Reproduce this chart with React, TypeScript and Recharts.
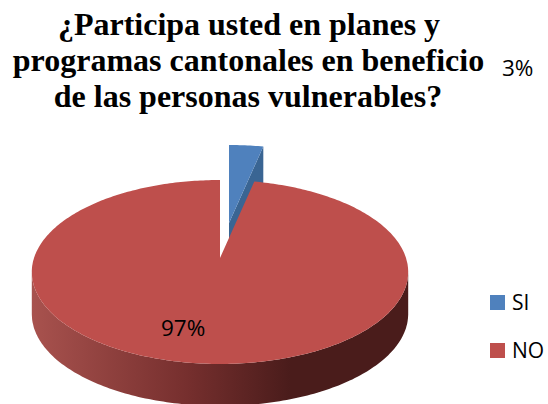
import React from 'react'
import { PieChart, Pie, Legend } from 'recharts'

const categories = ['SI', 'NO']
const values = [3.4, 96.6]
const colors = ['#4F81BD', '#BE4F4C']
const wallColors = ['#3A6593', '#4A1C1B']
const titleLines = [
  '¿Participa usted en planes y',
  'programas cantonales en beneficio',
  'de las personas vulnerables?',
]

const data = categories.map((name, i) => ({ name, value: values[i], fill: colors[i] }))

const TILT = 0.483
const PERSPECTIVE = 0.152
const DEPTH = 42
const RAD = Math.PI / 180
const labelSpots = [
  { x: 502, y: 76 },
  { x: 161, y: 336 },
]
const sliceShift = [
  { dx: 9, dy: -35 },
  { dx: 0, dy: 0 },
]

// flat pie angle -> tilted disc with a little perspective
const project = (cx: number, cy: number, r: number, deg: number) => {
  const u = Math.cos(deg * RAD)
  const v = -Math.sin(deg * RAD)
  const w = 1 - PERSPECTIVE * v
  return { x: cx + (r * u) / w, y: cy + (r * TILT * v) / w, front: v >= PERSPECTIVE }
}

const toPath = (pts: { x: number; y: number }[]) =>
  pts.map((p, i) => `${i ? 'L' : 'M'}${p.x.toFixed(1)},${p.y.toFixed(1)}`).join(' ')

const Slice3D = (props: any) => {
  const { cx, cy, outerRadius, startAngle, endAngle, fill, index } = props
  const { dx, dy } = sliceShift[index]
  const x0 = cx + dx
  const y0 = cy + dy
  const steps = Math.max(4, Math.ceil(Math.abs(endAngle - startAngle)))
  const rim = Array.from({ length: steps + 1 }, (_, i) =>
    project(x0, y0, outerRadius, startAngle + ((endAngle - startAngle) * i) / steps),
  )
  const front = rim.filter((p) => p.front)
  const last = rim[rim.length - 1]
  const cutWall = [
    { x: x0, y: y0 },
    { x: last.x, y: last.y },
    { x: last.x, y: last.y + DEPTH },
    { x: x0, y: y0 + DEPTH },
  ]
  return (
    <g>
      {index === 0 && <path d={toPath(cutWall) + ' Z'} fill={wallColors[0]} />}
      {front.length > 1 && (
        <path
          d={
            toPath([...front, ...[...front].reverse().map((p) => ({ x: p.x, y: p.y + DEPTH }))]) + ' Z'
          }
          fill="url(#sideShade)"
        />
      )}
      <path d={toPath([{ x: x0, y: y0 }, ...rim]) + ' Z'} fill={fill} />
    </g>
  )
}

const renderLabel = ({ index, percent }: any) => (
  <text
    x={labelSpots[index].x}
    y={labelSpots[index].y}
    textAnchor="start"
    fontFamily="Open Sans"
    fontSize={22.5}
    fill="#000"
  >
    {`${Math.round(percent * 100)}%`}
  </text>
)

const renderLegend = () => (
  <div style={{ fontFamily: 'Open Sans', fontSize: 21, color: '#000' }}>
    {data.map((d) => (
      <div key={d.name} style={{ display: 'flex', alignItems: 'center', height: 48 }}>
        <span style={{ width: 15, height: 15, background: d.fill, marginRight: 7 }} />
        {d.name}
      </div>
    ))}
  </div>
)

export default function App() {
  return (
    <div style={{ position: 'absolute', left: 0, top: 0, width: 548, height: 404, overflow: 'hidden' }}>
      <PieChart width={548} height={404} margin={{ top: 0, right: 0, bottom: 0, left: 0 }}>
        <defs>
          <linearGradient id="sideShade" gradientUnits="userSpaceOnUse" x1={32} y1={0} x2={290} y2={0}>
            <stop offset="0" stopColor="#A8524E" />
            <stop offset="0.6" stopColor="#762F2E" />
            <stop offset="1" stopColor="#4A1C1B" />
          </linearGradient>
        </defs>
        <text
          textAnchor="middle"
          fontFamily="Liberation Serif"
          fontWeight="bold"
          fontSize={32}
          fill="#000"
        >
          <tspan x={249} y={35}>{titleLines[0]}</tspan>
          <tspan x={248.5} y={71}>{titleLines[1]}</tspan>
          <tspan x={248} y={107}>{titleLines[2]}</tspan>
        </text>
        <Pie
          data={data}
          dataKey="value"
          nameKey="name"
          cx={220}
          cy={258}
          outerRadius={186}
          startAngle={90}
          endAngle={-270}
          stroke="none"
          shape={Slice3D}
          label={renderLabel}
          labelLine={false}
          isAnimationActive={false}
        />
        <Legend
          content={renderLegend}
          wrapperStyle={{ position: 'absolute', left: 490, top: 278, width: 58 }}
        />
      </PieChart>
    </div>
  )
}
